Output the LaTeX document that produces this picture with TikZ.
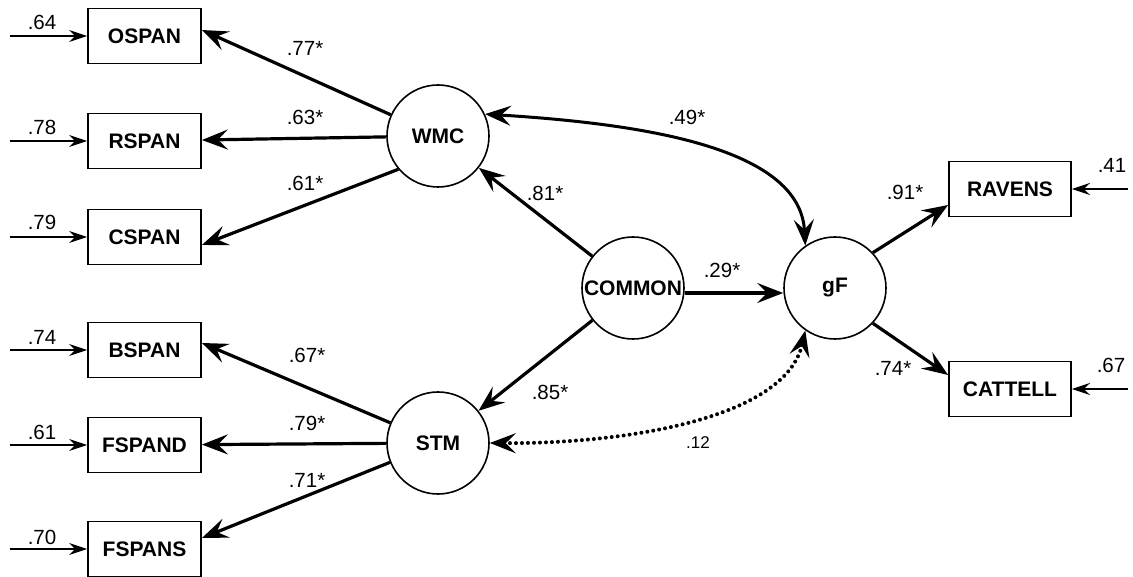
\documentclass[tikz,border=0pt]{standalone}
\usepackage{fontspec}
\setmainfont{Liberation Sans}
\usetikzlibrary{arrows.meta}
\begin{document}
\begin{tikzpicture}[x=1pt,y=-1pt,
  every node/.style={font=\fontsize{20.5}{22}\selectfont},
  obs/.style={draw, line width=1.8pt, minimum width=113pt, minimum height=55pt,
    inner sep=0pt, font=\fontsize{21}{22}\selectfont\bfseries},
  lat/.style={draw, circle, line width=1.6pt, minimum size=102pt, inner sep=0pt,
    font=\fontsize{21}{22}\selectfont\bfseries},
  load/.style={line width=3.2pt, -{Stealth[length=26pt,width=20pt,inset=10pt]}},
  corr/.style={line width=3pt,
    {Stealth[length=26pt,width=20pt,inset=10pt]}-{Stealth[length=26pt,width=20pt,inset=10pt]}},
  dotcorr/.style={line width=4pt, line cap=round, dash pattern=on 0pt off 6pt,
    {Stealth[length=26pt,width=20pt,inset=10pt]}-{Stealth[length=26pt,width=20pt,inset=10pt]}},
  resid/.style={line width=2pt, -{Stealth[length=18pt,width=12pt,inset=6pt]}},
  coef/.style={inner sep=0pt},
]
\useasboundingbox (0,0) rectangle (1133,577);

% observed measures
\node[obs] (OSPAN)  at (144.5,36)  {OSPAN};
\node[obs] (RSPAN)  at (144.5,141) {RSPAN};
\node[obs] (CSPAN)  at (144.5,237) {CSPAN};
\node[obs] (BSPAN)  at (144.5,350) {BSPAN};
\node[obs] (FSPAND) at (144.5,445) {FSPAND};
\node[obs] (FSPANS) at (144.5,549) {FSPANS};
\node[obs, minimum width=122pt] (RAVENS)  at (1010,189) {RAVENS};
\node[obs, minimum width=122pt] (CATTELL) at (1010,389) {CATTELL};

% latent factors
\node[lat] (WMC)    at (438,136) {WMC};
\node[lat] (STM)    at (438,443) {STM};
\node[lat] (COMMON) at (633,288) {COMMON};
\node[lat] (gF)     at (835,288) {gF};

% error terms
\coordinate (eOSPAN)  at (10,36);
\coordinate (eRSPAN)  at (10,141);
\coordinate (eCSPAN)  at (10,237);
\coordinate (eBSPAN)  at (10,350);
\coordinate (eFSPAND) at (10,445);
\coordinate (eFSPANS) at (10,549);
\coordinate (eRAVENS)  at (1128,189);
\coordinate (eCATTELL) at (1128,389);

\draw[resid] (eOSPAN)  -- (OSPAN);
\draw[resid] (eRSPAN)  -- (RSPAN);
\draw[resid] (eCSPAN)  -- (CSPAN);
\draw[resid] (eBSPAN)  -- (BSPAN);
\draw[resid] (eFSPAND) -- (FSPAND);
\draw[resid] (eFSPANS) -- (FSPANS);
\draw[resid, line width=2.6pt] (eRAVENS)  -- (RAVENS);
\draw[resid, line width=2.6pt] (eCATTELL) -- (CATTELL);

\node[coef] at (42,22)  {.64};
\node[coef] at (42,127) {.78};
\node[coef] at (42,222) {.79};
\node[coef] at (42,337) {.74};
\node[coef] at (42,432) {.61};
\node[coef] at (42,537) {.70};
\node[coef] at (1112,165) {.41};
\node[coef] at (1111,365) {.67};

% factor loadings
\draw[load] (WMC) -- ([yshift=6pt]OSPAN.east);
\draw[load] (WMC) -- (RSPAN);
\draw[load] (WMC.220) -- ([yshift=-8pt]CSPAN.east);
\draw[load] (STM) -- ([yshift=7pt]BSPAN.east);
\draw[load] (STM) -- (FSPAND);
\draw[load] (STM) -- ([yshift=11pt]FSPANS.east);
\draw[load] (COMMON) -- (WMC);
\draw[load] (COMMON) -- (STM);
\draw[load] ([yshift=-5pt]COMMON.east) -- ([yshift=-5pt]gF.west);
\draw[load] (gF.43) -- ([yshift=-16pt]RAVENS.west);
\draw[load] (gF.-43) -- ([yshift=14pt]CATTELL.west);

\node[coef] at (305,48)  {.77*};
\node[coef] at (305,117) {.63*};
\node[coef] at (305,183) {.61*};
\node[coef] at (307,355) {.67*};
\node[coef] at (307,423) {.79*};
\node[coef] at (307,480) {.71*};
\node[coef] at (545,193) {.81*};
\node[coef] at (550,392) {.85*};
\node[coef] at (722,270) {.29*};
\node[coef] at (905,192) {.91*};
\node[coef] at (893,368) {.74*};

% correlations between factors
\draw[corr] (WMC.25) .. controls (645,124) and (800,148) .. (gF.125);
\draw[dotcorr] (STM.east) .. controls (620,444) and (785,420) .. (gF.-125);
\node[coef] at (687,117) {.49*};
\node[coef, font=\fontsize{17}{18}\selectfont] at (698,443) {.12};
\end{tikzpicture}
\end{document}
